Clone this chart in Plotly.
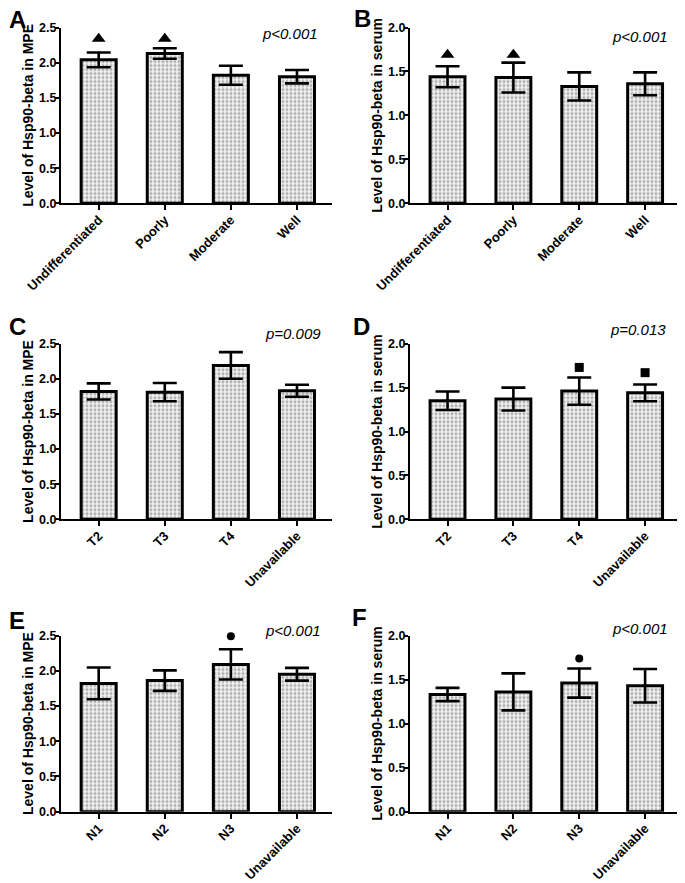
import plotly.graph_objects as go
from plotly.subplots import make_subplots

# categories
grade_labels = ["Undifferentiated", "Poorly", "Moderate", "Well"]
t_labels = ["T2", "T3", "T4", "Unavailable"]
n_labels = ["N1", "N2", "N3", "Unavailable"]

# mean levels and error
mpe_grade = [2.04, 2.13, 1.82, 1.80]
mpe_grade_err = [0.105, 0.075, 0.135, 0.095]
serum_grade = [1.44, 1.43, 1.33, 1.36]
serum_grade_err = [0.12, 0.17, 0.16, 0.13]
mpe_t = [1.82, 1.81, 2.19, 1.83]
mpe_t_err = [0.115, 0.13, 0.19, 0.085]
serum_t = [1.35, 1.37, 1.46, 1.44]
serum_t_err = [0.105, 0.13, 0.155, 0.095]
mpe_n = [1.82, 1.86, 2.09, 1.95]
mpe_n_err = [0.225, 0.145, 0.215, 0.09]
serum_n = [1.33, 1.36, 1.46, 1.43]
serum_n_err = [0.075, 0.21, 0.165, 0.19]

# significance symbols above bars (None = no symbol)
mpe_grade_sig = [2.34, 2.34, None, None]
serum_grade_sig = [1.69, 1.69, None, None]
mpe_t_sig = [None, None, 2.51, None]
serum_t_sig = [None, None, 1.73, 1.67]
mpe_n_sig = [None, None, 2.49, None]
serum_n_sig = [None, None, 1.74, None]

p_texts = ["p<0.001", "p<0.001", "p=0.009", "p=0.013", "p<0.001", "p<0.001"]
panel_letters = ["A", "B", "C", "D", "E", "F"]

# page body adds an 8px margin before the figure
OFF = 8
W, H = 685 - OFF, 883 - OFF
FONT = "Arial, Liberation Sans, sans-serif"

panels = [
    (grade_labels, mpe_grade, mpe_grade_err, mpe_grade_sig, "triangle-up", 2.5, "Level of Hsp90-beta in MPE"),
    (grade_labels, serum_grade, serum_grade_err, serum_grade_sig, "triangle-up", 2.0, "Level of Hsp90-beta in serum"),
    (t_labels, mpe_t, mpe_t_err, mpe_t_sig, "square", 2.5, "Level of Hsp90-beta in MPE"),
    (t_labels, serum_t, serum_t_err, serum_t_sig, "square", 2.0, "Level of Hsp90-beta in serum"),
    (n_labels, mpe_n, mpe_n_err, mpe_n_sig, "circle", 2.5, "Level of Hsp90-beta in MPE"),
    (n_labels, serum_n, serum_n_err, serum_n_sig, "circle", 2.0, "Level of Hsp90-beta in serum"),
]

# pixel layout of plot areas (screen pixels)
col_px = [(61, 332), (410, 680)]
row_px = [(27.5, 203.3), (343.7, 519.3), (635.5, 811.7)]
sym_size = {"triangle-up": 12, "square": 9, "circle": 8}
# annotation centres in screen pixels
p_pos = [(290, 33), (640, 36), (293, 333), (638, 329), (293, 630), (640, 628)]
letter_pos = [(17, 20), (362, 18), (17, 326), (361, 326), (17, 620), (360, 617)]


def px_x(x):
    return (x - OFF) / W


def px_y(y):
    return 1 - (y - OFF) / H


fig = make_subplots(rows=3, cols=2)

for k, (cats, vals, errs, sig, sym, ymax, ytitle) in enumerate(panels):
    r, c = k // 2 + 1, k % 2 + 1
    fig.add_trace(go.Bar(
        x=cats, y=vals, width=0.53,
        error_y=dict(type="data", array=errs, color="black", thickness=2.6, width=12),
        marker=dict(color="white", line=dict(color="black", width=3),
                    pattern=dict(shape=".", fgcolor="#6a6a6a", bgcolor="#f2f2f2",
                                 size=4, solidity=0.45)),
        showlegend=False,
    ), row=r, col=c)
    sx = [cats[i] for i in range(4) if sig[i] is not None]
    sy = [s for s in sig if s is not None]
    fig.add_trace(go.Scatter(
        x=sx, y=sy, mode="markers", cliponaxis=False,
        marker=dict(symbol=sym, size=sym_size[sym], color="black"),
        showlegend=False,
    ), row=r, col=c)

    x0, x1 = col_px[c - 1]
    y0, y1 = row_px[r - 1]
    fig.update_xaxes(
        domain=[px_x(x0), px_x(x1)], range=[-0.57, 3.53], automargin=False,
        showline=True, linecolor="black", linewidth=2,
        ticks="outside", ticklen=5, tickwidth=2, tickcolor="black",
        ticklabelstandoff=-3,
        tickangle=-45, tickfont=dict(family=FONT, size=13, color="black", weight="bold"),
        showgrid=False, zeroline=False,
        row=r, col=c)
    fig.update_yaxes(
        domain=[px_y(y1), px_y(y0)], range=[0, ymax], dtick=0.5, tickformat=".1f",
        automargin=False,
        showline=True, linecolor="black", linewidth=2,
        ticks="outside", ticklen=4, tickwidth=2, tickcolor="black",
        ticklabelstandoff=-4,
        tickfont=dict(family=FONT, size=12.5, color="black", weight="bold"),
        title=dict(text=ytitle, font=dict(family=FONT, size=14, color="black", weight="bold"),
                   standoff=2),
        showgrid=False, zeroline=False,
        row=r, col=c)

    # p-value and panel letter
    px, py = p_pos[k]
    fig.add_annotation(x=px_x(px), y=px_y(py), xref="paper", yref="paper",
                       xanchor="center", yanchor="middle",
                       text=f"<i>{p_texts[k]}</i>", showarrow=False,
                       font=dict(family=FONT, size=15, color="black"))
    lx, ly = letter_pos[k]
    fig.add_annotation(x=px_x(lx), y=px_y(ly), xref="paper", yref="paper",
                       xanchor="center", yanchor="middle",
                       text=f"<b>{panel_letters[k]}</b>", showarrow=False,
                       font=dict(family=FONT, size=24, color="black"))

fig.update_layout(
    width=W, height=H,
    margin=dict(l=0, r=0, t=0, b=0),
    plot_bgcolor="white", paper_bgcolor="white",
    font=dict(family=FONT, color="black"),
    bargap=0.45,
)

fig.write_html("out.html")
